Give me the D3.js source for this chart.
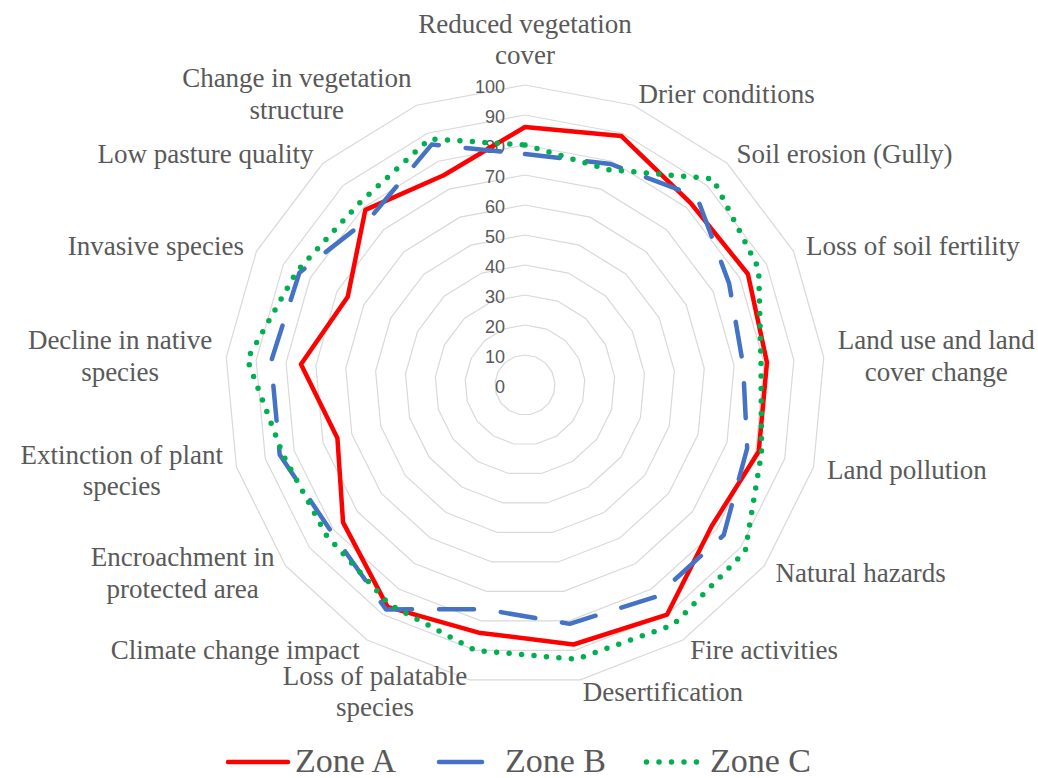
<!DOCTYPE html>
<html>
<head>
<meta charset="utf-8">
<script src="https://cdn.jsdelivr.net/npm/d3@7"></script>
<style>
  html, body { margin: 0; padding: 0; background: #ffffff; }
  svg { display: block; }
</style>
</head>
<body>
<svg id="chart" width="1038" height="778"></svg>
<script>
// ---- data ----
const categories = [
  "Reduced vegetation\ncover",
  "Drier conditions",
  "Soil erosion (Gully)",
  "Loss of soil fertility",
  "Land use and land\ncover change",
  "Land pollution",
  "Natural hazards",
  "Fire activities",
  "Desertification",
  "Loss of palatable\nspecies",
  "Climate change impact",
  "Encroachment in\nprotected area",
  "Extinction of plant\nspecies",
  "Decline in native\nspecies",
  "Invasive species",
  "Low pasture quality",
  "Change in vegetation\nstructure"
];
const zoneA = [86, 89, 82, 83, 81, 81, 78, 90, 88, 84, 87, 76, 65, 75, 66, 79, 75];
const zoneB = [77, 79, 85, 76, 73, 77, 83, 83, 81, 76, 88, 81, 85, 85, 84, 76, 86];
const zoneC = [80, 77, 93, 87, 79, 82, 92, 94, 93, 90, 86, 83, 84, 93, 85, 82, 88];
const seriesNames = ["Zone A", "Zone B", "Zone C"];
const tickValues = [0, 10, 20, 30, 40, 50, 60, 70, 80, 90, 100];

// ---- layout ----
const W = 1038, H = 778;
const cx = 525, cy = 385, R = 300;
const svg = d3.select("#chart");
svg.append("rect").attr("width", W).attr("height", H).attr("fill", "#fff");

const n = categories.length;
const angle = d3.scaleLinear().domain([0, n]).range([0, 2 * Math.PI]);
const r = d3.scaleLinear().domain([0, 100]).range([0, R]);

const g = svg.append("g").attr("transform", `translate(${cx},${cy})`);

// grid rings
const ring = d3.lineRadial()
  .angle((d, i) => angle(i))
  .radius(d => r(d))
  .curve(d3.curveLinearClosed);
g.append("g").selectAll("path")
  .data(tickValues.filter(t => t > 0))
  .join("path")
  .attr("d", t => ring(categories.map(() => t)))
  .attr("fill", "none")
  .attr("stroke", "#d9d9d9")
  .attr("stroke-width", 1.2);

// tick labels
g.append("g").selectAll("text")
  .data(tickValues)
  .join("text")
  .attr("x", -20)
  .attr("y", t => -r(t) + 1.5)
  .attr("text-anchor", "end")
  .attr("dominant-baseline", "central")
  .attr("font-family", "'Liberation Sans', Arial, sans-serif")
  .attr("font-size", 18)
  .attr("fill", "#595959")
  .text(t => t);

// series
const styles = [
  { color: "#ff0000", width: 4.5, dash: null, cap: "round" },
  { color: "#4472c4", width: 4.5, dash: "35 27", cap: "round" },
  { color: "#00b050", width: 5.5, dash: "0 12.5", cap: "round" }
];
const seriesData = [zoneA, zoneB, zoneC];
const line = d3.lineRadial()
  .angle((d, i) => angle(i))
  .radius(d => r(d))
  .curve(d3.curveLinearClosed);

seriesData.forEach((vals, k) => {
  const s = styles[k];
  g.append("path")
    .attr("d", line(vals))
    .attr("fill", "none")
    .attr("stroke", s.color)
    .attr("stroke-width", s.width)
    .attr("stroke-linejoin", "round")
    .attr("stroke-linecap", s.cap)
    .attr("stroke-dasharray", s.dash);
});

// category labels
const fontSize = 27, lineH = 31.5;
const labelG = svg.append("g")
  .attr("font-family", "'Liberation Serif', 'Times New Roman', serif")
  .attr("font-size", fontSize)
  .attr("fill", "#595959");

categories.forEach((name, i) => {
  const a = angle(i);
  const sn = Math.sin(a), cs = Math.cos(a);
  const vx = cx + R * sn, vy = cy - R * cs;
  const lines = name.split("\n");
  const grp = labelG.append("g");
  const texts = lines.map(l => grp.append("text").attr("text-anchor", "middle").text(l));
  const widths = texts.map(t => t.node().getComputedTextLength());
  const boxW = d3.max(widths);
  let centerX, centerY;
  if (Math.abs(sn) < 0.05) {
    centerX = vx;
    centerY = vy - 10 - (lines.length * lineH) / 2 - 4;
  } else {
    const gap = 14 * Math.abs(sn);
    centerX = sn > 0 ? vx + gap + boxW / 2 : vx - gap - boxW / 2;
    centerY = vy - 12 * cs;
  }
  texts.forEach((t, j) => {
    t.attr("x", centerX)
     .attr("y", centerY + (j - (lines.length - 1) / 2) * lineH + 9);
  });
});

// legend
const legendItems = [
  { x0: 228, x1: 288, tx: 295 },
  { x0: 439, x1: 482, tx: 505 },
  { x0: 646.5, x1: 697, tx: 710 }
];
const ly = 762;
const leg = svg.append("g");
seriesNames.forEach((nm, k) => {
  const s = styles[k], it = legendItems[k];
  leg.append("line")
    .attr("x1", it.x0).attr("x2", it.x1)
    .attr("y1", ly).attr("y2", ly)
    .attr("stroke", s.color)
    .attr("stroke-width", s.width)
    .attr("stroke-linecap", s.cap)
    .attr("stroke-dasharray", k === 1 ? null : s.dash);
  leg.append("text")
    .attr("x", it.tx).attr("y", 772)
    .attr("font-family", "'Liberation Serif', 'Times New Roman', serif")
    .attr("font-size", 34)
    .attr("fill", "#595959")
    .text(nm);
});
</script>
</body>
</html>
